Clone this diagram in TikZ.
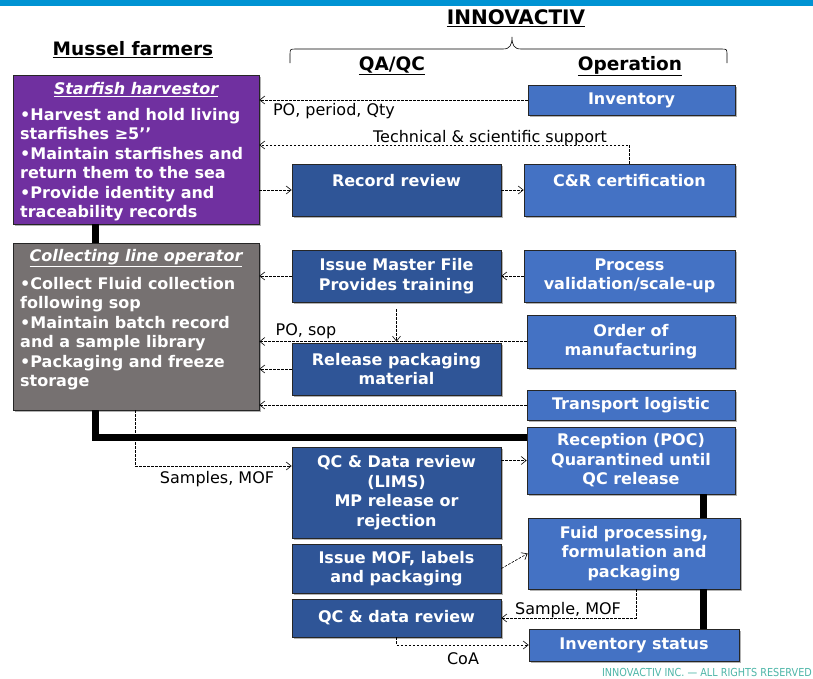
\documentclass[tikz,border=0pt]{standalone}
\usepackage{fontspec}
\setmainfont{DejaVu Sans}
\newfontfamily\lblfont{DejaVu Sans}[FakeStretch=0.88]
\usetikzlibrary{arrows.meta,shadows}
\definecolor{opblue}{HTML}{4472C4}
\definecolor{qablue}{HTML}{2F5597}
\definecolor{harvpurple}{HTML}{7030A0}
\definecolor{opgray}{HTML}{767171}
\definecolor{topbar}{HTML}{0093D3}
\definecolor{footteal}{HTML}{4DB6A8}
\definecolor{boxline}{HTML}{262626}
\begin{document}
\begin{tikzpicture}[x=1pt,y=-1pt,
  boxbase/.style={draw=boxline, line width=0.7pt, text=white,
    font=\fontsize{16}{19.5}\selectfont\bfseries, align=center, inner sep=0pt,
    drop shadow={shadow xshift=1.5pt,shadow yshift=-1.5pt,fill=black,opacity=0.3}},
  opbox/.style={boxbase, fill=opblue},
  qabox/.style={boxbase, fill=qablue},
  bodytext/.style={text=white, font=\fontsize{16}{19.5}\selectfont\bfseries, align=left, inner sep=0pt},
  titletext/.style={text=white, font=\fontsize{16}{19.5}\selectfont\bfseries\itshape, inner sep=0pt},
  flow/.style={draw=black, line width=0.6pt, dash pattern=on 2.5pt off 1.5pt,
    -{Straight Barb[length=5pt,width=8pt,line width=0.6pt]}},
  spine/.style={draw=black, line width=7pt},
  lbl/.style={font=\fontsize{16}{19}\selectfont, inner sep=0pt},
  hdr/.style={font=\fontsize{18.5}{22}\selectfont\bfseries, inner sep=0pt}
]
\useasboundingbox (0,0) rectangle (813,678);
\fill[white] (0,0) rectangle (813,678);
\fill[topbar] (0,0) rectangle (813,6);

% headers
\node[hdr, font=\fontsize{20}{24}\selectfont\bfseries] (innov) at (516,18) {\underline{INNOVACTIV}};
\node[hdr] (mf) at (133,50) {\underline{Mussel farmers}};
\node[hdr] (qa) at (392,66) {\underline{QA/QC}};
\node[hdr] (op) at (630,66) {\underline{Operation}};
\draw[line width=0.6pt] (290,63) -- (290,55) .. controls (290,49) .. (296,49) -- (503,49)
  .. controls (510,49) and (512,45) .. (512,37) .. controls (512,45) and (514,49) .. (521,49)
  -- (721,49) .. controls (727,49) .. (727,55) -- (727,63);

\coordinate (lx) at (95,0);
\coordinate (rx) at (703,0);
\coordinate (hy) at (0,437);

% left boxes
\node[boxbase, fill=harvpurple, minimum width=246pt, minimum height=149pt] (fh) at (136,149.5) {};
\node[titletext] (fht) at (136,90) {\underline{Starfish harvestor}};
\node[bodytext, anchor=north west] (fhb) at (20,108) {•Harvest and hold living\\starfishes ≥5’’\\•Maintain starfishes and\\return them to the sea\\•Provide identity and\\traceability records};

\node[boxbase, fill=opgray, minimum width=246pt, minimum height=167pt] (cl) at (136,326.5) {};
\node[titletext] (clt) at (136,258) {\underline{Collecting line operator}};
\node[bodytext, anchor=north west] (clb) at (20,277) {•Collect Fluid collection\\following sop\\•Maintain batch record\\and a sample library\\•Packaging and freeze\\storage};

% operation column
\node[opbox, minimum width=207pt, minimum height=30pt] (inv) at (631.5,100) {Inventory};
\node[opbox, minimum width=211pt, minimum height=52pt] (cr) at (629.5,190) {C\&R certification\\\mbox{}};
\node[opbox, minimum width=211pt, minimum height=52pt] (pv) at (629.5,276) {Process\\validation/scale-up};
\node[opbox, minimum width=208pt, minimum height=53pt] (om) at (631,341.5) {Order of\\manufacturing};
\node[opbox, minimum width=208pt, minimum height=30pt] (tl) at (631,405) {Transport logistic};
\node[opbox, minimum width=208pt, minimum height=67pt] (rec) at (631,460.5) {Reception (POC)\\Quarantined until\\QC release};
\node[opbox, minimum width=212pt, minimum height=71pt] (fp) at (634,553.5) {Fuid processing,\\formulation and\\packaging};
\node[opbox, minimum width=210pt, minimum height=32pt] (is) at (634,645) {Inventory status};

% QA/QC column
\node[qabox, minimum width=209pt, minimum height=52pt] (rr) at (396.5,190) {Record review\\\mbox{}};
\node[qabox, minimum width=209pt, minimum height=52pt] (imf) at (396.5,276) {Issue Master File\\Provides training};
\node[qabox, minimum width=209pt, minimum height=52pt] (rp) at (396.5,369) {Release packaging\\material};
\node[qabox, minimum width=209pt, minimum height=91pt] (qcl) at (396.5,492.5) {QC \& Data review\\(LIMS)\\MP release or\\rejection};
\node[qabox, minimum width=209pt, minimum height=49pt] (mof) at (396.5,568.5) {Issue MOF, labels\\and packaging};
\node[qabox, minimum width=209pt, minimum height=38pt] (qcd) at (396.5,618) {QC \& data review};

% spines
\draw[spine] (fh.south -| lx) -- (cl.north -| lx);
\draw[spine] (cl.south -| lx) -- (lx |- hy) -- (rec.west |- hy);
\draw[spine] (rec.south -| rx) -- (fp.north -| rx);
\draw[spine] (fp.south -| rx) -- (is.north -| rx);

% connectors
\coordinate (tsy) at (0,145);
\coordinate (sx) at (135,0);
\coordinate (sy) at (0,466);
\coordinate (fx) at (636,0);
\draw[flow] (inv.west) -- (inv.west -| fh.east);
\draw[flow] (cr.north) |- (fh.east |- tsy);
\draw[flow] (fh.east |- rr.west) -- (rr.west);
\draw[flow] (rr.east) -- (cr.west);
\draw[flow] (imf.west) -- (imf.west -| cl.east);
\draw[flow] (pv.west) -- (imf.east);
\draw[flow, shorten <=7pt, shorten >=1pt] (imf.south) -- (rp.north);
\draw[flow] (om.west) -- (om.west -| cl.east);
\draw[flow] (rp.west) -- (rp.west -| cl.east);
\draw[flow] (tl.west) -- (tl.west -| cl.east);
\draw[flow] (cl.south -| sx) |- (qcl.west |- sy);
\draw[flow] (qcl.east |- rec.west) -- (rec.west);
\draw[flow] (mof.east) -- (fp.west);
\draw[flow] (fp.south -| fx) |- (qcd.east);
\draw[flow] (qcd.south) |- (is.west);

% labels
\node[lbl] (l1) at (334,111) {PO, period, Qty};
\node[lbl] (l2) at (490,138) {Technical \& scientific support};
\node[lbl] (l3) at (306,331) {PO, sop};
\node[lbl] (l4) at (217,479) {Samples, MOF};
\node[lbl] (l5) at (568,610) {Sample, MOF};
\node[lbl] (l6) at (463,659) {CoA};

% footer
\node[font=\lblfont\fontsize{11}{13}\selectfont, text=footteal, anchor=east, inner sep=0pt] (foot) at (812,672) {INNOVACTIV INC. — ALL RIGHTS RESERVED};
\end{tikzpicture}
\end{document}
